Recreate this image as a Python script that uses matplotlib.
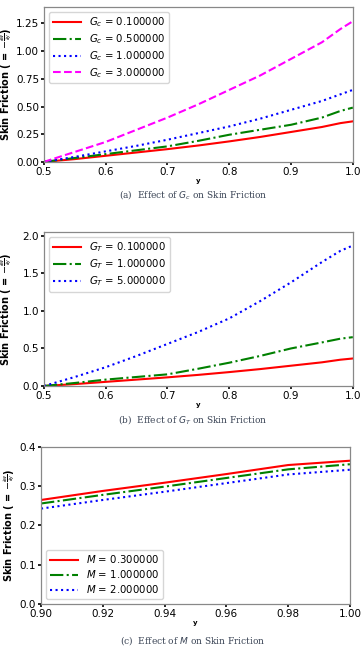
import numpy as np
import matplotlib
matplotlib.use("Agg")
import matplotlib.pyplot as plt

plt.rcParams['mathtext.fontset'] = 'dejavusans'

# ---- data ----
y_ab = [0.50, 0.55, 0.60, 0.65, 0.70, 0.75, 0.80, 0.85, 0.90, 0.95, 0.98, 1.00]

gc_labels = ['0.100000', '0.500000', '1.000000', '3.000000']
sf_gc_01 = [0, 0.025, 0.055, 0.085, 0.115, 0.148, 0.185, 0.225, 0.270, 0.315, 0.350, 0.366]
sf_gc_05 = [0, 0.035, 0.070, 0.105, 0.140, 0.190, 0.245, 0.290, 0.335, 0.400, 0.460, 0.490]
sf_gc_10 = [0, 0.045, 0.095, 0.145, 0.200, 0.260, 0.320, 0.390, 0.470, 0.550, 0.610, 0.650]
sf_gc_30 = [0, 0.090, 0.180, 0.290, 0.400, 0.520, 0.650, 0.780, 0.930, 1.080, 1.200, 1.270]

gt_labels = ['0.100000', '1.000000', '5.000000']
sf_gt_01 = sf_gc_01
sf_gt_10 = [0, 0.040, 0.085, 0.120, 0.155, 0.230, 0.310, 0.400, 0.500, 0.580, 0.630, 0.650]
sf_gt_50 = [0, 0.120, 0.250, 0.400, 0.560, 0.720, 0.900, 1.130, 1.380, 1.650, 1.800, 1.870]

y_c = [0.90, 0.92, 0.94, 0.96, 0.98, 1.00]
m_labels = ['0.300000', '1.000000', '2.000000']
sf_m_03 = [0.265, 0.288, 0.309, 0.331, 0.354, 0.365]
sf_m_10 = [0.256, 0.278, 0.299, 0.321, 0.343, 0.356]
sf_m_20 = [0.243, 0.265, 0.286, 0.308, 0.330, 0.342]

ylab = r'Skin Friction ( = $-\genfrac{}{}{0.5}{2}{\partial w}{\partial y}$)'
styles = [('red', '-'), ('green', '-.'), ('blue', ':'), ('magenta', '--')]


def style_axes(ax, ylab_x):
    for s in ax.spines.values():
        s.set_color('#888888')
        s.set_linewidth(0.9)
    ax.tick_params(labelsize=7.5, length=2.5, width=1.2, pad=1, color='black')
    ax.set_xlabel('y', fontsize=5, fontweight='bold', labelpad=1)
    ax.set_ylabel(ylab, fontsize=7, fontweight='bold')
    ax.yaxis.set_label_coords(ylab_x, 0.5)


def add_legend(ax, loc):
    ax.legend(loc=loc, fontsize=7.3, handlelength=2.8,
              borderpad=0.35, labelspacing=0.3, handletextpad=0.8)


def caption(y, txt):
    fig.text(0.532, y, txt, ha='center', va='center', fontsize=6.5,
             family='DejaVu Serif', color='#3a4455')


fig = plt.figure(figsize=(3.63, 6.58), dpi=100)

# (a) effect of Gc
ax1 = fig.add_axes([0.121, 0.754, 0.851, 0.2356])
for (c, ls), lab, v in zip(styles, gc_labels,
                           [sf_gc_01, sf_gc_05, sf_gc_10, sf_gc_30]):
    ax1.plot(y_ab, v, color=c, linestyle=ls, linewidth=1.5,
             label=r'$G_c$ = ' + lab)
ax1.set_xlim(0.5, 1.0)
ax1.set_ylim(0, 1.4)
ax1.set_yticks([0, 0.25, 0.5, 0.75, 1.0, 1.25])
ax1.set_yticklabels(['0.00', '0.25', '0.50', '0.75', '1.00', '1.25'])
style_axes(ax1, -0.097)
add_legend(ax1, 'upper left')
caption(0.705, r'(a)  Effect of $G_c$ on Skin Friction')

# (b) effect of GT
ax2 = fig.add_axes([0.121, 0.4134, 0.851, 0.234])
for (c, ls), lab, v in zip(styles, gt_labels, [sf_gt_01, sf_gt_10, sf_gt_50]):
    ax2.plot(y_ab, v, color=c, linestyle=ls, linewidth=1.5,
             label=r'$G_T$ = ' + lab)
ax2.set_xlim(0.5, 1.0)
ax2.set_ylim(0, 2.05)
ax2.set_yticks([0, 0.5, 1.0, 1.5, 2.0])
style_axes(ax2, -0.097)
add_legend(ax2, 'upper left')
caption(0.362, r'(b)  Effect of $G_T$ on Skin Friction')

# (c) effect of M
ax3 = fig.add_axes([0.113, 0.0821, 0.851, 0.2386])
for (c, ls), lab, v in zip(styles, m_labels, [sf_m_03, sf_m_10, sf_m_20]):
    ax3.plot(y_c, v, color=c, linestyle=ls, linewidth=1.5,
             label=r'$M$ = ' + lab)
ax3.set_xlim(0.9, 1.0)
ax3.set_ylim(0, 0.4)
ax3.set_xticks([0.90, 0.92, 0.94, 0.96, 0.98, 1.00])
ax3.set_yticks([0, 0.1, 0.2, 0.3, 0.4])
style_axes(ax3, -0.078)
add_legend(ax3, 'lower left')
caption(0.027, r'(c)  Effect of $M$ on Skin Friction')

fig.savefig('out.png', dpi=100)
